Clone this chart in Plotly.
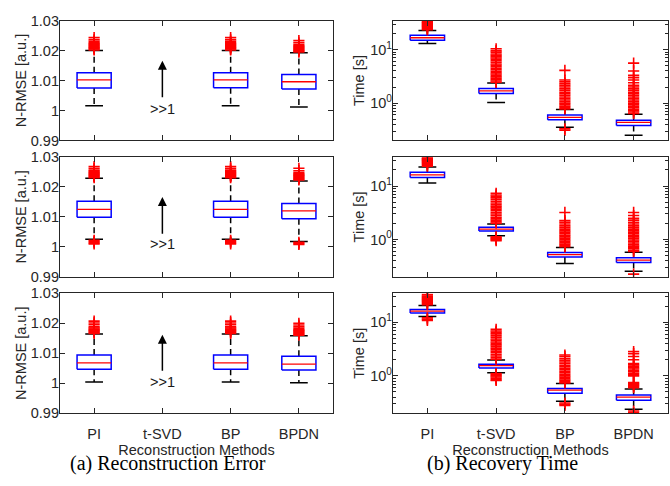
import plotly.graph_objects as go

methods = ["PI", "t-SVD", "BP", "BPDN"]

# ---------- N-RMSE (left column), rows 1-3 ; t-SVD off-scale (>>1) ----------
err1_q1 = [1.0075, None, 1.0076, 1.0072]
err1_med = [1.0102, None, 1.0102, 1.0096]
err1_q3 = [1.0126, None, 1.0126, 1.0120]
err1_lo = [1.0016, None, 1.0016, 1.0012]
err1_hi = [1.0200, None, 1.0200, 1.0193]
err1_out = [
    [1.0202, 1.0205, 1.0208, 1.0211, 1.0214, 1.0217, 1.0220, 1.0223, 1.0226, 1.0231, 1.0236, 1.0243],
    [],
    [1.0202, 1.0205, 1.0208, 1.0211, 1.0214, 1.0217, 1.0220, 1.0223, 1.0226, 1.0231, 1.0236, 1.0243],
    [1.0195, 1.0198, 1.0201, 1.0204, 1.0207, 1.0210, 1.0213, 1.0216, 1.0220, 1.0226, 1.0233],
]

err2_q1 = [1.0099, None, 1.0099, 1.0094]
err2_med = [1.0125, None, 1.0125, 1.0120]
err2_q3 = [1.0152, None, 1.0152, 1.0145]
err2_lo = [1.0025, None, 1.0025, 1.0018]
err2_hi = [1.0229, None, 1.0229, 1.0220]
err2_out = [
    [1.0231, 1.0234, 1.0237, 1.0240, 1.0243, 1.0246, 1.0249, 1.0252, 1.0256, 1.0262, 1.0268,
     1.0022, 1.0018, 1.0014, 1.0010],
    [],
    [1.0231, 1.0234, 1.0237, 1.0240, 1.0243, 1.0246, 1.0249, 1.0252, 1.0256, 1.0262, 1.0268,
     1.0022, 1.0018, 1.0014, 1.0010],
    [1.0223, 1.0226, 1.0229, 1.0232, 1.0235, 1.0238, 1.0241, 1.0244, 1.0248, 1.0254, 1.0262,
     1.0015, 1.0011, 1.0008],
]

err3_q1 = [1.0047, None, 1.0047, 1.0044]
err3_med = [1.0068, None, 1.0068, 1.0064]
err3_q3 = [1.0094, None, 1.0094, 1.0090]
err3_lo = [1.0004, None, 1.0004, 1.0002]
err3_hi = [1.0164, None, 1.0164, 1.0158]
err3_out = [
    [1.0166, 1.0169, 1.0172, 1.0175, 1.0178, 1.0181, 1.0184, 1.0188, 1.0195, 1.0201, 1.0207],
    [],
    [1.0166, 1.0169, 1.0172, 1.0175, 1.0178, 1.0181, 1.0184, 1.0188, 1.0195, 1.0201, 1.0207],
    [1.0160, 1.0163, 1.0166, 1.0169, 1.0172, 1.0175, 1.0178, 1.0182, 1.0188, 1.0194, 1.0200],
]

# arrow (tail, head) and ">>1" label level for the off-scale t-SVD
arrow_tail = [1.0039, 1.0039, 1.0037]
arrow_head = [1.0166, 1.0166, 1.0162]
arrow_label = [1.0006, 1.0009, 1.0004]

# ---------- Recovery time [s] (right column, log), rows 1-3 ----------
t1_q1 = [15.0, 1.52, 0.49, 0.38]
t1_med = [16.7, 1.69, 0.54, 0.435]
t1_q3 = [18.5, 1.87, 0.60, 0.48]
t1_lo = [13.0, 1.03, 0.355, 0.25]
t1_hi = [22.8, 2.37, 0.76, 0.62]
t1_out = [
    [23.5, 24.5, 25.5, 26.5, 27.5, 28.5, 29.5, 30.5, 31.5, 32.5, 33.5],
    [2.45, 2.6, 2.75, 2.9, 3.1, 3.3, 3.5, 3.7, 3.95, 4.2, 4.5, 4.8, 5.1, 5.4, 5.8, 6.2,
     6.6, 7.0, 7.4, 7.8, 8.3, 9.0, 9.6, 10.4],
    [0.78, 0.83, 0.88, 0.94, 1.0, 1.07, 1.14, 1.22, 1.3, 1.4, 1.5, 1.6, 1.72, 1.85,
     2.0, 2.15, 2.3, 2.5, 2.7, 4.1, 0.33, 0.31],
    [0.64, 0.68, 0.72, 0.77, 0.82, 0.88, 0.94, 1.0, 1.07, 1.14, 1.22, 1.3, 1.4, 1.5,
     1.6, 1.72, 1.85, 2.0, 2.15, 2.4, 2.7, 3.0, 3.3, 4.0, 5.6],
]

t2_q1 = [14.4, 1.44, 0.47, 0.37]
t2_med = [16.1, 1.56, 0.52, 0.41]
t2_q3 = [18.0, 1.69, 0.57, 0.455]
t2_lo = [11.4, 1.17, 0.355, 0.254]
t2_hi = [22.8, 1.95, 0.71, 0.575]
t2_out = [
    [23.5, 24.5, 25.5, 26.5, 27.5, 28.5, 29.5, 30.5, 31.5, 32.5, 33.5],
    [2.02, 2.15, 2.3, 2.45, 2.6, 2.8, 3.0, 3.2, 3.45, 3.7, 3.95, 4.2, 4.5, 4.8, 5.2,
     5.6, 6.0, 6.4, 6.8, 7.3, 1.12, 1.07, 1.03, 0.99, 0.95],
    [0.73, 0.77, 0.82, 0.87, 0.93, 0.99, 1.06, 1.13, 1.2, 1.28, 1.37, 1.46, 1.56, 1.67,
     1.8, 1.95, 2.1, 2.25, 3.2],
    [0.6, 0.63, 0.67, 0.71, 0.75, 0.8, 0.86, 0.92, 0.98, 1.05, 1.12, 1.2, 1.28, 1.37,
     1.46, 1.56, 1.67, 1.8, 1.95, 2.1, 2.3, 2.5, 2.8, 3.2, 0.225],
]

t3_q1 = [15.0, 1.40, 0.474, 0.35]
t3_med = [16.3, 1.55, 0.54, 0.40]
t3_q3 = [17.5, 1.65, 0.58, 0.44]
t3_lo = [12.9, 1.14, 0.334, 0.237]
t3_hi = [20.6, 1.98, 0.72, 0.57]
t3_out = [
    [21.5, 22.5, 23.5, 24.5, 25.5, 26.5, 27.5, 28.5, 29.5, 31.0, 33.0, 12.2, 11.5, 10.9],
    [2.05, 2.2, 2.35, 2.5, 2.7, 2.9, 3.1, 3.3, 3.55, 3.8, 4.05, 4.3, 4.6, 4.9, 5.3,
     5.7, 6.1, 6.5, 6.9, 7.4, 1.1, 1.05, 1.0, 0.95, 0.9, 0.85, 0.82],
    [0.74, 0.78, 0.83, 0.88, 0.94, 1.0, 1.07, 1.14, 1.22, 1.3, 1.39, 1.48, 1.58, 1.7,
     1.82, 1.95, 2.1, 2.3, 2.45, 0.31, 0.295, 0.28],
    [0.6, 0.63, 0.66, 0.69, 0.72, 0.75, 1.0, 1.06, 1.12, 1.19, 1.26, 1.34, 1.42, 1.5,
     1.6, 1.7, 2.0, 2.3, 2.6, 2.85, 0.22, 0.205, 0.195],
]

err_rows = [
    (err1_q1, err1_med, err1_q3, err1_lo, err1_hi, err1_out),
    (err2_q1, err2_med, err2_q3, err2_lo, err2_hi, err2_out),
    (err3_q1, err3_med, err3_q3, err3_lo, err3_hi, err3_out),
]
time_rows = [
    (t1_q1, t1_med, t1_q3, t1_lo, t1_hi, t1_out),
    (t2_q1, t2_med, t2_q3, t2_lo, t2_hi, t2_out),
    (t3_q1, t3_med, t3_q3, t3_lo, t3_hi, t3_out),
]

BOX_HALF = 0.25
CAP_HALF = 0.13
AX_COLOR = "#262626"
FONT = "Liberation Sans"
SERIF = "Liberation Serif"
FS = 14.5

fig = go.Figure()


def add_boxes(stats, xa, ya):
    q1, med, q3, lo, hi, outs = stats
    bx, by, mx, my, wx, wy, cx, cy, ox, oy = [], [], [], [], [], [], [], [], [], []
    for i in range(len(methods)):
        pos = i + 1
        for v in outs[i]:
            ox.append(pos)
            oy.append(v)
        if q1[i] is None:
            continue
        bx += [pos - BOX_HALF, pos + BOX_HALF, pos + BOX_HALF, pos - BOX_HALF, pos - BOX_HALF, None]
        by += [q1[i], q1[i], q3[i], q3[i], q1[i], None]
        mx += [pos - BOX_HALF, pos + BOX_HALF, None]
        my += [med[i], med[i], None]
        wx += [pos, pos, None, pos, pos, None]
        wy += [q3[i], hi[i], None, q1[i], lo[i], None]
        cx += [pos - CAP_HALF, pos + CAP_HALF, None, pos - CAP_HALF, pos + CAP_HALF, None]
        cy += [hi[i], hi[i], None, lo[i], lo[i], None]
    common = dict(xaxis=xa, yaxis=ya, showlegend=False, hoverinfo="skip")
    fig.add_trace(go.Scatter(x=wx, y=wy, mode="lines",
                             line=dict(color="black", width=1.5, dash="6px,4px"), **common))
    fig.add_trace(go.Scatter(x=cx, y=cy, mode="lines",
                             line=dict(color="black", width=1.5), **common))
    fig.add_trace(go.Scatter(x=bx, y=by, mode="lines",
                             line=dict(color="#0000ff", width=1.5), **common))
    fig.add_trace(go.Scatter(x=mx, y=my, mode="lines",
                             line=dict(color="#ff0000", width=1.3), **common))
    fig.add_trace(go.Scatter(x=ox, y=oy, mode="markers",
                             marker=dict(symbol="cross-thin", size=8,
                                         line=dict(color="#ff0000", width=1.6)), **common))


# layout domains (paper fractions of the 670x486 canvas)
W, H = 670, 486
left_dom = [60 / W, 333 / W]
right_dom = [393 / W, 668 / W]
row_px = [(13, 137), (154, 278), (295, 419)]

layout = dict(
    width=W, height=H, margin=dict(l=0, r=0, t=0, b=0),
    paper_bgcolor="white", plot_bgcolor="white",
    font=dict(family=FONT, size=FS, color=AX_COLOR),
    annotations=[],
)

tick_font = dict(family=FONT, size=FS, color=AX_COLOR)
frame_axis = dict(showline=True, linecolor=AX_COLOR, linewidth=1, mirror="ticks",
                  ticks="inside", ticklen=5, tickcolor=AX_COLOR, showgrid=False,
                  zeroline=False, tickfont=tick_font)
label_axis = dict(showline=False, ticks="", showgrid=False, zeroline=False,
                  tickfont=tick_font, side="left")

minor_vals = [0.2, 0.3, 0.4, 0.5, 0.6, 0.7, 0.8, 0.9, 2, 3, 4, 5, 6, 7, 8, 9, 20, 30]
title_font = dict(family=FONT, size=FS, color=AX_COLOR)
err_ticks = [0.99, 1.0, 1.01, 1.02, 1.03]
err_ticktext = ["0.99", "1", "1.01", "1.02", "1.03"]
time_ticks = [1, 10]
time_ticktext = ["10<sup>0</sup>", "10<sup>1</sup>"]
err_range = [0.99, 1.03]
time_range = [-0.699, 1.544]

for r in range(3):
    top, bot = row_px[r]
    ydom = [1 - bot / H, 1 - top / H]
    nl = 2 * r + 1
    nr = 2 * r + 2
    last = r == 2
    xl = dict(frame_axis, domain=left_dom, anchor=f"y{nl}", range=[0.5, 4.5],
              tickvals=[1, 2, 3, 4], ticktext=methods, showticklabels=last,
              ticklabelstandoff=7)
    xr = dict(frame_axis, domain=right_dom, anchor=f"y{nr}", range=[0.5, 4.5],
              tickvals=[1, 2, 3, 4], ticktext=methods, showticklabels=last,
              ticklabelstandoff=7)
    if last:
        xl["title"] = dict(text="Reconstruction Methods", font=title_font, standoff=0)
        xr["title"] = dict(text="Reconstruction Methods", font=title_font, standoff=0)
    # frame axes: line + inside ticks, no labels
    yl = dict(frame_axis, domain=ydom, anchor=f"x{nl}", range=err_range,
              tickvals=err_ticks, showticklabels=False)
    yr = dict(frame_axis, domain=ydom, anchor=f"x{nr}", type="log", range=time_range,
              tickvals=time_ticks, showticklabels=False,
              minor=dict(tickvals=minor_vals, ticks="inside", ticklen=3,
                         tickcolor=AX_COLOR, showgrid=False))
    # label axes overlaying the frames: tick labels + titles
    yl_lab = dict(label_axis, overlaying=f"y{nl}", anchor=f"x{nl}", range=err_range,
                  tickvals=err_ticks, ticktext=err_ticktext,
                  title=dict(text="N-RMSE [a.u.]", font=title_font, standoff=0))
    yr_lab = dict(label_axis, overlaying=f"y{nr}", anchor=f"x{nr}", type="log",
                  range=time_range, tickvals=time_ticks, ticktext=time_ticktext,
                  title=dict(text="Time [s]", font=title_font, standoff=2))
    layout[f"xaxis{nl}"] = xl
    layout[f"xaxis{nr}"] = xr
    layout[f"yaxis{nl}"] = yl
    layout[f"yaxis{nr}"] = yr
    layout[f"yaxis{nl + 6}"] = yl_lab
    layout[f"yaxis{nr + 6}"] = yr_lab

    add_boxes(err_rows[r], f"x{nl}", f"y{nl}")
    add_boxes(time_rows[r], f"x{nr}", f"y{nr}")
    # empty traces so the label axes are drawn
    fig.add_trace(go.Scatter(x=[None], y=[None], xaxis=f"x{nl}", yaxis=f"y{nl + 6}",
                             mode="markers", showlegend=False, hoverinfo="skip"))
    fig.add_trace(go.Scatter(x=[None], y=[None], xaxis=f"x{nr}", yaxis=f"y{nr + 6}",
                             mode="markers", showlegend=False, hoverinfo="skip"))

    layout["annotations"].append(dict(
        x=2, y=arrow_head[r], ax=2, ay=arrow_tail[r], xref=f"x{nl}", yref=f"y{nl}",
        axref=f"x{nl}", ayref=f"y{nl}", text="", showarrow=True, arrowhead=2,
        arrowsize=1.2, arrowwidth=1.5, arrowcolor="black"))
    layout["annotations"].append(dict(
        x=2, y=arrow_label[r], xref=f"x{nl}", yref=f"y{nl}", text=">>1", showarrow=False,
        xanchor="center", yanchor="middle",
        font=dict(family=FONT, size=FS, color="#1a1a1a")))

# sub-captions (centred on each half of the figure)
cap_font = dict(family=SERIF, size=20, color="black")
layout["annotations"].append(dict(
    x=0.25, y=1 - 471 / H, xref="paper", yref="paper", text="(a) Reconstruction Error",
    xanchor="center", yanchor="middle", showarrow=False, font=cap_font))
layout["annotations"].append(dict(
    x=0.75, y=1 - 471 / H, xref="paper", yref="paper", text="(b) Recovery Time",
    xanchor="center", yanchor="middle", showarrow=False, font=cap_font))

fig.update_layout(**layout)
fig.write_html("out.html")
